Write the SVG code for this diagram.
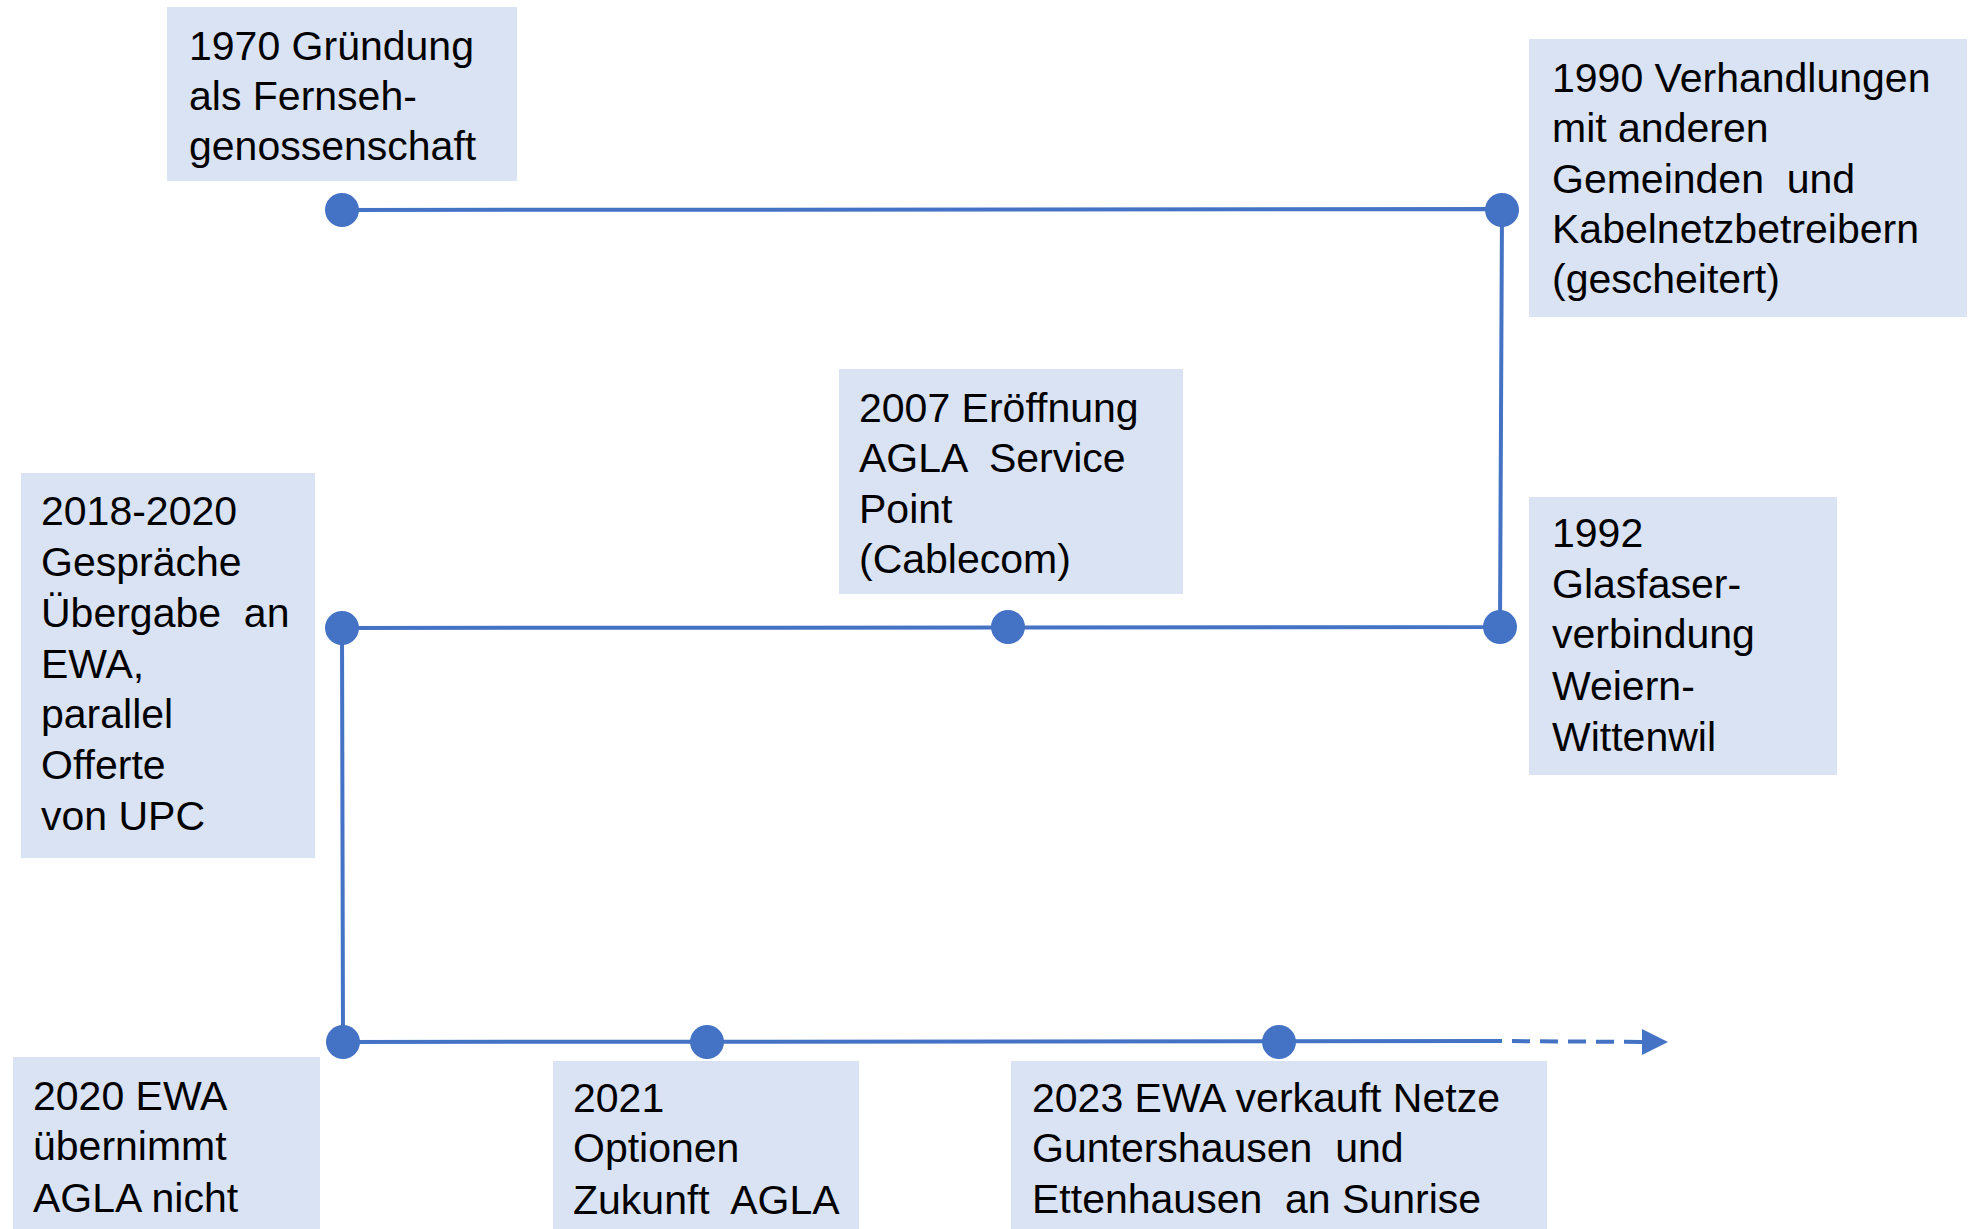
<svg xmlns="http://www.w3.org/2000/svg" width="1982" height="1229" viewBox="0 0 1982 1229">
<style>
.box{fill:#DAE3F3;}
.t{font-family:"Liberation Sans",Arial,sans-serif;font-size:41px;fill:#000;white-space:pre;}
.ln{stroke:#4472C4;stroke-width:4;fill:none;}
.dot{fill:#4472C4;}
</style>
<rect width="1982" height="1229" fill="#fff"/>
<g id="connectors">
<polyline class="ln" points="342,210 1502,209 1500,627 342,628 343,1042 1502,1041"/>
<line class="ln" x1="1502" y1="1041" x2="1642" y2="1042" stroke-dasharray="18,10" stroke-dashoffset="18"/>
<polygon class="dot" points="1642,1029 1668,1042 1642,1055"/>
</g>
<g id="n1970">
<rect class="box" x="167" y="7" width="350" height="174"/>
<text class="t" x="189" y="60">1970 Gründung</text>
<text class="t" x="189" y="110">als Fernseh-</text>
<text class="t" x="189" y="160">genossenschaft</text>
<circle class="dot" cx="342" cy="210" r="17"/>
</g>
<g id="n1990">
<rect class="box" x="1529" y="39" width="438" height="278"/>
<text class="t" x="1552" y="92">1990 Verhandlungen</text>
<text class="t" x="1552" y="142">mit anderen</text>
<text class="t" x="1552" y="193">Gemeinden  und</text>
<text class="t" x="1552" y="243">Kabelnetzbetreibern</text>
<text class="t" x="1552" y="293">(gescheitert)</text>
<circle class="dot" cx="1502" cy="210" r="17"/>
</g>
<g id="n1992">
<rect class="box" x="1529" y="497" width="308" height="278"/>
<text class="t" x="1552" y="547">1992</text>
<text class="t" x="1552" y="598">Glasfaser-</text>
<text class="t" x="1552" y="648">verbindung</text>
<text class="t" x="1552" y="700">Weiern-</text>
<text class="t" x="1552" y="751">Wittenwil</text>
<circle class="dot" cx="1500" cy="627" r="17"/>
</g>
<g id="n2007">
<rect class="box" x="839" y="369" width="344" height="225"/>
<text class="t" x="859" y="422">2007 Eröffnung</text>
<text class="t" x="859" y="472">AGLA  Service</text>
<text class="t" x="859" y="523">Point</text>
<text class="t" x="859" y="573">(Cablecom)</text>
<circle class="dot" cx="1008" cy="627" r="17"/>
</g>
<g id="n2018">
<rect class="box" x="21" y="473" width="294" height="385"/>
<text class="t" x="41" y="525">2018-2020</text>
<text class="t" x="41" y="576">Gespräche</text>
<text class="t" x="41" y="627">Übergabe  an</text>
<text class="t" x="41" y="678">EWA,</text>
<text class="t" x="41" y="728">parallel</text>
<text class="t" x="41" y="779">Offerte</text>
<text class="t" x="41" y="830">von UPC</text>
<circle class="dot" cx="342" cy="628" r="17"/>
</g>
<g id="n2020">
<rect class="box" x="13" y="1057" width="307" height="172"/>
<text class="t" x="33" y="1110">2020 EWA</text>
<text class="t" x="33" y="1160">übernimmt</text>
<text class="t" x="33" y="1212">AGLA nicht</text>
<circle class="dot" cx="343" cy="1042" r="17"/>
</g>
<g id="n2021">
<rect class="box" x="553" y="1061" width="306" height="168"/>
<text class="t" x="573" y="1112">2021</text>
<text class="t" x="573" y="1162">Optionen</text>
<text class="t" x="573" y="1214">Zukunft  AGLA</text>
<circle class="dot" cx="707" cy="1042" r="17"/>
</g>
<g id="n2023">
<rect class="box" x="1011" y="1061" width="536" height="168"/>
<text class="t" x="1032" y="1112">2023 EWA verkauft Netze</text>
<text class="t" x="1032" y="1162">Guntershausen  und</text>
<text class="t" x="1032" y="1213">Ettenhausen  an Sunrise</text>
<circle class="dot" cx="1279" cy="1042" r="17"/>
</g>
</svg>
